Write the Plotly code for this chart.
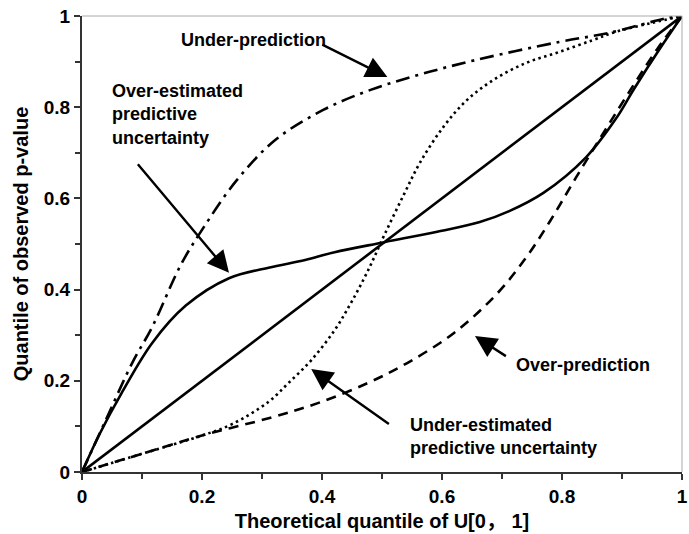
import plotly.graph_objects as go

# ---- data ----
diag_x = [0, 1]
diag_y = [0, 1]

over_est_x = [0, 0.03, 0.066, 0.117, 0.173, 0.245, 0.311, 0.372, 0.421, 0.504, 0.592, 0.663, 0.712, 0.769, 0.84, 0.89, 0.92, 0.96, 1]
over_est_y = [0, 0.085, 0.173, 0.283, 0.365, 0.425, 0.448, 0.465, 0.482, 0.504, 0.527, 0.548, 0.572, 0.612, 0.69, 0.775, 0.84, 0.922, 1]

under_pred_x = [0, 0.04, 0.084, 0.117, 0.165, 0.203, 0.258, 0.322, 0.402, 0.481, 0.564, 0.658, 0.795, 0.878, 0.977, 1]
under_pred_y = [0, 0.115, 0.24, 0.318, 0.455, 0.537, 0.64, 0.728, 0.794, 0.838, 0.872, 0.904, 0.943, 0.963, 0.996, 1]

over_pred_x = [0, 0.1, 0.2, 0.311, 0.393, 0.476, 0.542, 0.62, 0.691, 0.74, 0.78, 0.823, 0.873, 0.92, 0.96, 1]
over_pred_y = [0, 0.04, 0.08, 0.118, 0.151, 0.195, 0.239, 0.305, 0.39, 0.47, 0.55, 0.645, 0.752, 0.85, 0.93, 1]

under_est_x = [0, 0.1, 0.2, 0.25, 0.311, 0.344, 0.382, 0.421, 0.448, 0.476, 0.504, 0.537, 0.564, 0.603, 0.641, 0.686, 0.74, 0.795, 0.851, 0.889, 0.95, 1]
under_est_y = [0, 0.04, 0.08, 0.105, 0.154, 0.195, 0.245, 0.311, 0.37, 0.44, 0.52, 0.61, 0.68, 0.758, 0.815, 0.86, 0.897, 0.921, 0.947, 0.965, 0.985, 1]

tick_vals = [0, 0.2, 0.4, 0.6, 0.8, 1]
tick_text = ["0", "0.2", "0.4", "0.6", "0.8", "1"]

labels = ["Under-prediction", "Over-estimated<br>predictive<br>uncertainty",
          "Over-prediction", "Under-estimated<br>predictive uncertainty"]
label_pos = [(0.162, 0.947), (0.046, 0.783), (0.72, 0.235), (0.543, 0.078)]
arrow_head = [(0.509, 0.866), (0.245, 0.437), (0.655, 0.298), (0.382, 0.226)]
arrow_tail = [(0.398, 0.939), (0.091, 0.678), (0.709, 0.252), (0.514, 0.103)]

FONT = "Liberation Sans, Arial, Noto Sans CJK SC, sans-serif"
LW = 2.6

fig = go.Figure()

def add(x, y, dash):
    fig.add_trace(go.Scatter(x=x, y=y, mode="lines",
                             line=dict(color="black", width=LW, dash=dash, shape="spline", smoothing=1.0),
                             showlegend=False, hoverinfo="skip"))

add(diag_x, diag_y, "solid")
add(over_est_x, over_est_y, "solid")
add(under_pred_x, under_pred_y, "14px,6px,3px,6px")
add(over_pred_x, over_pred_y, "10px,7px")
add(under_est_x, under_est_y, "2.5px,3.5px")

for txt, (lx, ly) in zip(labels, label_pos):
    fig.add_annotation(x=lx, y=ly, xref="x", yref="y", text=txt, showarrow=False,
                       xanchor="left", yanchor="middle", align="left",
                       font=dict(family=FONT, size=18, color="black", weight="bold"))

for (hx, hy), (tx, ty) in zip(arrow_head, arrow_tail):
    fig.add_annotation(x=hx, y=hy, ax=tx, ay=ty, xref="x", yref="y", axref="x", ayref="y",
                       text="", showarrow=True, arrowhead=2, arrowsize=1.8, arrowwidth=2.4,
                       arrowcolor="black")

axis_common = dict(range=[0, 1], tickvals=tick_vals, ticktext=tick_text, ticks="outside",
                   ticklen=6, tickwidth=1.5, tickcolor="#333", showline=True, linecolor="#333",
                   linewidth=2, showgrid=False, zeroline=False, ticklabeloverflow="allow",
                   tickfont=dict(family=FONT, size=19, color="black", weight="bold"),
                   minor=dict(dtick=0.1, tick0=0, ticks="outside", ticklen=5, tickwidth=1.5,
                              tickcolor="#333", showgrid=False))

fig.update_xaxes(**axis_common,
                 title=dict(text="Theoretical quantile of U[0， 1]", standoff=8,
                            font=dict(family=FONT, size=20, color="black", weight="bold")))
fig.update_yaxes(**axis_common,
                 title=dict(text="Quantile of observed p-value", standoff=10,
                            font=dict(family=FONT, size=20, color="black", weight="bold")))

fig.add_shape(type="line", xref="paper", yref="paper", x0=0, x1=1, y0=1, y1=1,
              line=dict(color="#aaa", width=1))
fig.add_shape(type="line", xref="paper", yref="paper", x0=1, x1=1, y0=0, y1=1,
              line=dict(color="#aaa", width=1))

fig.update_layout(width=689, height=534, margin=dict(l=82, r=1, t=16, b=62),
                  plot_bgcolor="white", paper_bgcolor="white")

fig.write_html("out.html")
